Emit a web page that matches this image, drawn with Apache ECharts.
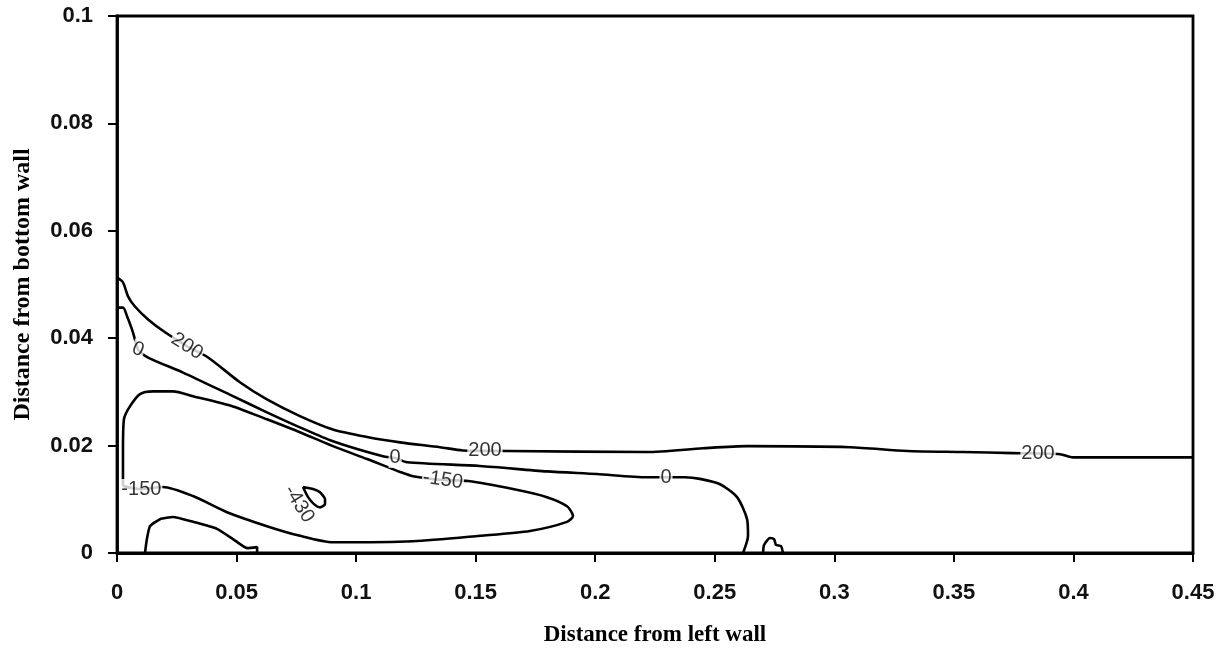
<!DOCTYPE html>
<html>
<head>
<meta charset="utf-8">
<script src="https://cdn.jsdelivr.net/npm/echarts@6/dist/echarts.min.js"></script>
<style>
  html, body { margin: 0; padding: 0; background: #fff; }
  #chart { width: 1228px; height: 652px; }
</style>
</head>
<body>
<div id="chart"></div>
<script>
// Contour lines of the field, as [distance from left wall, distance from bottom wall]
const contour200 = [
  [0, 0.0513], [0.0025, 0.0504], [0.0046, 0.0478], [0.0075, 0.0459], [0.0130, 0.0435],
  [0.0201, 0.0411], [0.0293, 0.0385], [0.0381, 0.0364], [0.0514, 0.0318], [0.0627, 0.0286],
  [0.0765, 0.0255], [0.0903, 0.0230], [0.1046, 0.0216], [0.1184, 0.0206], [0.1351, 0.0197],
  [0.1447, 0.0191], [0.1631, 0.0190], [0.2217, 0.0188], [0.2451, 0.0195], [0.2635, 0.0199],
  [0.3066, 0.0197], [0.3304, 0.0190], [0.3538, 0.0188], [0.3747, 0.0186], [0.3944, 0.0184],
  [0.3998, 0.0178], [0.45, 0.0178]
];

const contour0 = [
  [0, 0.0457], [0.0025, 0.0457], [0.0042, 0.0441], [0.0063, 0.0416], [0.0075, 0.0398],
  [0.0088, 0.0379], [0.0130, 0.0364], [0.0276, 0.0336], [0.0485, 0.0292], [0.0627, 0.0262],
  [0.0765, 0.0234], [0.0903, 0.0208], [0.1112, 0.0180], [0.1163, 0.0177], [0.1213, 0.0169],
  [0.1518, 0.0162], [0.1798, 0.0152], [0.2007, 0.0147], [0.2217, 0.0141], [0.2296, 0.0141],
  [0.2375, 0.0141], [0.2438, 0.0138], [0.2522, 0.0128], [0.2593, 0.0104], [0.2635, 0.0063],
  [0.2639, 0.0032], [0.2618, 0]
];

const contourMinus150 = [
  [0.0025, 0.0125], [0.0025, 0.0193], [0.0029, 0.0249], [0.0054, 0.0273], [0.0096, 0.0296],
  [0.0151, 0.0301], [0.0234, 0.0301], [0.0318, 0.0292], [0.0485, 0.0273], [0.0627, 0.0249],
  [0.0765, 0.0225], [0.0903, 0.0199], [0.1046, 0.0175], [0.1184, 0.0151], [0.1238, 0.0143],
  [0.1363, 0.0136], [0.1468, 0.0134], [0.1656, 0.0119], [0.1798, 0.0104], [0.1882, 0.0087],
  [0.1907, 0.0069], [0.1882, 0.0058], [0.1727, 0.0041], [0.1518, 0.0032], [0.1238, 0.0022],
  [0.0903, 0.0020], [0.0765, 0.0032], [0.0627, 0.0050], [0.0460, 0.0076], [0.0318, 0.0106],
  [0.0192, 0.0123], [0.0100, 0.0119], [0.0025, 0.0125]
];

const contourMinus430Core = [
  [0.0117, 0], [0.0125, 0.0026], [0.0138, 0.0050], [0.0180, 0.0063], [0.0234, 0.0067],
  [0.0318, 0.0058], [0.0418, 0.0045], [0.0485, 0.0026], [0.0544, 0.0009], [0.0586, 0.0011],
  [0.0586, 0], [0.0556, 0]
];

const contourMinus430Island = [
  [0.0778, 0.0123], [0.0820, 0.0119], [0.0849, 0.0113], [0.0870, 0.0100], [0.0870, 0.0091],
  [0.0849, 0.0085], [0.0824, 0.0091], [0.0799, 0.0104], [0.0778, 0.0123]
];

const contourRightIsland = [
  [0.2702, 0], [0.2706, 0.0015], [0.2731, 0.0028], [0.2748, 0.0026], [0.2756, 0.0015],
  [0.2777, 0.0013], [0.2785, 0]
];

// Contour level labels: text, position and angle along the line
const labelText = ['200', '200', '200', '0', '0', '0', '-150', '-150', '-430'];
const labelPos = [
  [0.0293, 0.0385], [0.1539, 0.0191], [0.3852, 0.0186],
  [0.0088, 0.0379], [0.1163, 0.0177], [0.2296, 0.0141],
  [0.0102, 0.0119], [0.1363, 0.0136],
  [0.0761, 0.0091]
];
const labelAngle = [-32, 0, 0, -22, 0, 0, 0, -8, -58];

const xTicks = { min: 0, max: 0.45, step: 0.05 };
const yTicks = { min: 0, max: 0.1, step: 0.02 };

const chart = echarts.init(document.getElementById('chart'), null, { renderer: 'canvas' });

function contourSeries(data, smooth) {
  return {
    type: 'line',
    data: data,
    showSymbol: false,
    symbol: 'none',
    smooth: smooth,
    lineStyle: { color: '#000', width: 2.6 },
    z: 2,
    silent: true
  };
}

const labelData = labelText.map((t, i) => ({
  value: labelPos[i],
  label: { formatter: t, rotate: labelAngle[i] }
}));

const axisLabelStyle = {
  color: '#111',
  fontFamily: '"Liberation Sans", Arial, sans-serif',
  fontWeight: 'bold',
  fontSize: 22
};
const axisNameStyle = {
  color: '#000',
  fontFamily: '"Liberation Serif", "Times New Roman", serif',
  fontWeight: 'bold'
};

chart.setOption({
  animation: false,
  backgroundColor: '#fff',
  grid: {
    left: 117, right: 35, top: 16, bottom: 98,
    show: true, borderColor: '#000', borderWidth: 2.8, backgroundColor: 'transparent'
  },
  xAxis: {
    type: 'value',
    min: xTicks.min, max: xTicks.max, interval: xTicks.step,
    name: 'Distance from left wall',
    nameLocation: 'middle',
    nameGap: 71,
    nameTextStyle: Object.assign({ fontSize: 23 }, axisNameStyle),
    axisLine: { show: true, onZero: false, lineStyle: { color: '#000', width: 2.8 } },
    axisTick: { show: true, inside: false, length: 9, lineStyle: { color: '#000', width: 2 } },
    axisLabel: Object.assign({ margin: 29 }, axisLabelStyle),
    splitLine: { show: false }
  },
  yAxis: {
    type: 'value',
    min: yTicks.min, max: yTicks.max, interval: yTicks.step,
    name: 'Distance from bottom wall',
    nameLocation: 'middle',
    nameGap: 82,
    nameRotate: 90,
    nameTextStyle: Object.assign({ fontSize: 24 }, axisNameStyle),
    axisLine: { show: true, onZero: false, lineStyle: { color: '#000', width: 2.8 } },
    axisTick: { show: true, inside: false, length: 9, lineStyle: { color: '#000', width: 2 } },
    axisLabel: Object.assign({ margin: 24 }, axisLabelStyle),
    splitLine: { show: false }
  },
  series: [
    contourSeries(contour200, 0.25),
    contourSeries(contour0, 0.25),
    contourSeries(contourMinus150, 0.25),
    contourSeries(contourMinus430Core, 0.15),
    contourSeries(contourMinus430Island, 0.2),
    contourSeries(contourRightIsland, 0.2),
    {
      type: 'scatter',
      data: labelData,
      symbolSize: 1,
      itemStyle: { color: 'rgba(0,0,0,0)' },
      z: 5,
      silent: true,
      label: {
        show: true,
        position: 'inside',
        color: '#000',
        fontFamily: '"Liberation Sans", Arial, sans-serif',
        fontSize: 20,
        backgroundColor: '#fff',
        padding: [0, 1, 0, 1]
      }
    }
  ]
});
</script>
</body>
</html>
